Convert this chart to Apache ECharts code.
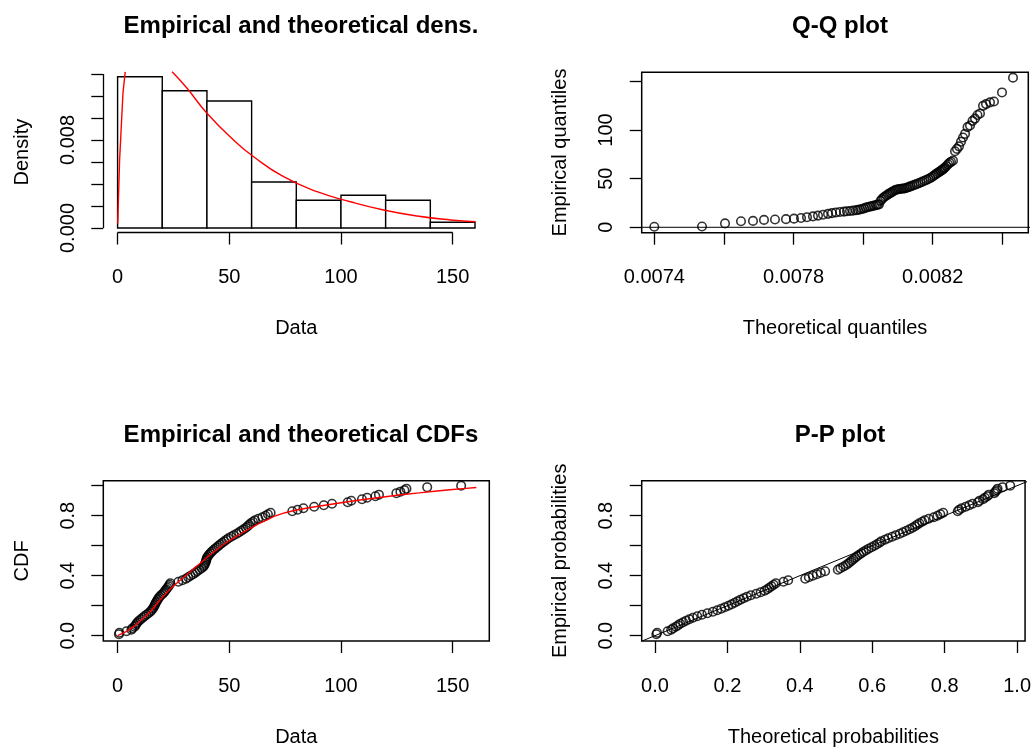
<!DOCTYPE html>
<html><head><meta charset="utf-8">
<script src="https://cdn.jsdelivr.net/npm/echarts@6/dist/echarts.min.js"></script>
<style>html,body{margin:0;padding:0;background:#fff}#c{width:1034px;height:755px}</style>
</head><body><div id="c"></div>
<script>
// ---- data ----
const sortedData = [0.6,0.8,4.0,6.2,6.6,7.6,8.0,8.4,8.9,9.6,
  10.4,11.2,12.0,12.9,13.8,14.6,15.2,15.7,16.1,16.5,
  16.8,17.1,17.5,17.9,18.3,18.8,19.4,20.2,20.8,21.3,
  21.8,22.3,22.8,23.2,23.6,27.2,29.0,30.6,31.6,32.7,
  33.8,34.8,35.6,36.6,37.6,38.4,38.8,39.1,39.4,39.6,
  39.8,39.95,40.4,40.9,41.5,42.1,42.8,43.6,44.4,45.2,
  46.0,46.9,47.8,48.7,49.6,50.8,52.0,53.3,54.4,55.4,
  56.4,57.4,58.2,58.9,59.6,60.6,61.5,63.0,64.8,66.2,
  67.3,68.5,78.2,80.6,83.2,88.0,92.3,96.0,103.0,104.6,
  109.4,111.7,115.4,117.0,124.8,126.6,128.4,129.3,138.6,153.8];
const theoQuantiles = [0.0074000,0.0075371,0.0076032,0.0076491,0.0076836,0.0077152,0.0077468,0.0077784,0.0078014,0.0078216,
  0.0078388,0.0078560,0.0078704,0.0078848,0.0078991,0.0079106,0.0079221,0.0079336,0.0079451,0.0079537,
  0.0079624,0.0079710,0.0079796,0.0079853,0.0079911,0.0079968,0.0080026,0.0080083,0.0080141,0.0080198,
  0.0080256,0.0080313,0.0080371,0.0080414,0.0080457,0.0080500,0.0080543,0.0080586,0.0080629,0.0080672,
  0.0080716,0.0080759,0.0080802,0.0080845,0.0080888,0.0080931,0.0080974,0.0081017,0.0081060,0.0081103,
  0.0081147,0.0081190,0.0081233,0.0081276,0.0081319,0.0081362,0.0081420,0.0081477,0.0081534,0.0081592,
  0.0081649,0.0081707,0.0081764,0.0081822,0.0081879,0.0081937,0.0081994,0.0082037,0.0082080,0.0082124,
  0.0082167,0.0082210,0.0082239,0.0082267,0.0082296,0.0082325,0.0082353,0.0082397,0.0082440,0.0082483,
  0.0082526,0.0082583,0.0082641,0.0082698,0.0082756,0.0082813,0.0082871,0.0082928,0.0083000,0.0083072,
  0.0083144,0.0083216,0.0083287,0.0083359,0.0083445,0.0083532,0.0083647,0.0083761,0.0083991,0.0084307];
const theoProbs = [0.004,0.006,0.035,0.045,0.050,0.058,0.064,0.070,0.078,0.086,
  0.095,0.105,0.117,0.130,0.145,0.160,0.172,0.183,0.193,0.203,
  0.212,0.220,0.228,0.236,0.245,0.254,0.265,0.280,0.292,0.303,
  0.310,0.316,0.322,0.328,0.334,0.355,0.368,0.415,0.425,0.436,
  0.447,0.458,0.470,0.505,0.512,0.520,0.527,0.533,0.538,0.543,
  0.548,0.553,0.558,0.564,0.570,0.576,0.583,0.590,0.598,0.606,
  0.613,0.620,0.625,0.635,0.644,0.655,0.665,0.676,0.685,0.694,
  0.703,0.711,0.718,0.724,0.730,0.738,0.745,0.756,0.770,0.780,
  0.788,0.796,0.836,0.840,0.847,0.858,0.868,0.877,0.892,0.896,
  0.906,0.911,0.918,0.922,0.937,0.940,0.944,0.946,0.960,0.981];
const histBreaks = [0,20,40,60,80,100,120,140,160];
const histDensity = [0.01375,0.01248,0.01155,0.00418,0.00252,0.00297,0.00252,0.00052];
const densRise = [[0.05,0.0004],[0.9,0.0062],[1.5,0.0086],[2.4,0.01225],[3.4,0.0142]];
const densFall = [[24.4,0.0142],[31.1,0.0127],[40,0.01043],[51.9,0.008],[60.9,0.00648],[74.3,0.00466],
  [89.3,0.0033],[104.2,0.00239],[119.1,0.00164],[134.1,0.00109],[149,0.00073],[160.2,0.00057]];
const cdfCurve = [[0,0],[3.6,0.025],[7.2,0.06],[11,0.11],[14.6,0.16],[18.5,0.23],[22.1,0.29],[26,0.345],
  [29.6,0.39],[33.5,0.44],[37,0.483],[41,0.535],[44.5,0.575],[48,0.615],[51.9,0.65],[55.5,0.683],
  [59.4,0.716],[63,0.745],[66.9,0.772],[70,0.795],[75,0.82],[80,0.838],[87,0.856],[95,0.875],
  [103,0.893],[111,0.91],[119,0.925],[127,0.94],[135,0.952],[143,0.965],[150,0.975],[156,0.982],[160.6,0.988]];
const qqRefLine = [0.0073, 0.0085];
const ppRefLine = [-0.05, 1.05];
// tick / label values
const dataTicks = [0,50,100,150];
const densTicks = [0,0.002,0.004,0.006,0.008,0.010,0.012,0.014];
const densLabels = [0,0.008];
const qqXTicks = [0.0074,0.0076,0.0078,0.0080,0.0082,0.0084];
const qqXLabels = [0.0074,0.0078,0.0082];
const qqYTicks = [0,50,100,150];
const qqYLabels = [0,50,100];
const probTicks = [0,0.2,0.4,0.6,0.8,1.0];
const probYLabels = [0,0.4,0.8];

// ---- chart ----
const FONT = "'Liberation Sans', Arial, sans-serif";
const n = sortedData.length;
const chart = echarts.init(document.getElementById('c'), null, {renderer: 'canvas'});

function axis(grid, min, max, ticks, labels, fmt, isY, name) {
  return {
    type: 'value', gridIndex: grid, min: min, max: max,
    name: name, nameLocation: 'middle', nameGap: isY ? 71 : 86,
    nameTextStyle: {fontSize: 20, color: '#000', fontFamily: FONT},
    axisLine: {show: false, onZero: false},
    splitLine: {show: false},
    axisTick: {show: true, inside: false, length: 12, customValues: ticks,
      lineStyle: {color: '#000', width: 1.3}},
    axisLabel: {show: true, customValues: labels, formatter: fmt, margin: isY ? 25 : 35,
      rotate: isY ? 90 : 0, fontSize: 20, color: '#000', fontFamily: FONT}
  };
}
const f0 = v => String(Math.round(v));
const f1 = v => v.toFixed(1);
const f3 = v => v.toFixed(3);
const f4 = v => v.toFixed(4);

const grids = [
  {left: 103.3, top: 71.7, width: 386, height: 160.8, show: false},
  {left: 641.7, top: 72.3, width: 386.6, height: 160.4, show: true, borderColor: '#000', borderWidth: 1.5},
  {left: 103.3, top: 480.7, width: 386, height: 160.3, show: true, borderColor: '#000', borderWidth: 1.5},
  {left: 641.7, top: 480.7, width: 385.6, height: 160.3, show: true, borderColor: '#000', borderWidth: 1.5}
];
const histYMin = -0.00041;
const histXMin = -6.4;
const pointStyle = {color: 'rgba(0,0,0,0)', borderColor: '#000', borderWidth: 1.6};

const option = {
  animation: false,
  backgroundColor: '#fff',
  title: [
    {text: 'Empirical and theoretical dens.', left: 296, top: 9, textAlign: 'center'},
    {text: 'Q-Q plot', left: 835, top: 9, textAlign: 'center'},
    {text: 'Empirical and theoretical CDFs', left: 296, top: 418, textAlign: 'center'},
    {text: 'P-P plot', left: 835, top: 418, textAlign: 'center'}
  ].map(t => Object.assign(t, {textStyle: {fontSize: 24, fontWeight: 'bold', color: '#000', fontFamily: FONT}})),
  grid: grids,
  xAxis: [
    axis(0, histXMin, 166.4, dataTicks, dataTicks, f0, false, 'Data'),
    axis(1, 0.0073638, 0.0084747, qqXTicks, qqXLabels, f4, false, 'Theoretical quantiles'),
    axis(2, -6.4, 166.4, dataTicks, dataTicks, f0, false, 'Data'),
    axis(3, -0.0365, 1.022, probTicks, probTicks, f1, false, 'Theoretical probabilities')
  ],
  yAxis: [
    axis(0, histYMin, 0.01421, densTicks, densLabels, f3, true, 'Density'),
    axis(1, -5.55, 159.3, qqYTicks, qqYLabels, f0, true, 'Empirical quantiles'),
    axis(2, -0.0353, 1.0333, probTicks, probYLabels, f1, true, 'CDF'),
    axis(3, -0.0353, 1.0333, probTicks, probYLabels, f1, true, 'Empirical probabilities')
  ],
  series: [
    {
      type: 'custom', xAxisIndex: 0, yAxisIndex: 0,
      data: histDensity.map((d, i) => [histBreaks[i], histBreaks[i + 1], d]),
      renderItem: function (params, api) {
        const p0 = api.coord([api.value(0), 0]);
        const p1 = api.coord([api.value(1), api.value(2)]);
        return {type: 'rect', shape: {x: p0[0], y: p1[1], width: p1[0] - p0[0], height: p0[1] - p1[1]},
          style: {fill: '#fff', stroke: '#000', lineWidth: 1.4}};
      },
      markLine: {
        silent: true, symbol: ['none', 'none'], label: {show: false},
        lineStyle: {color: '#000', width: 1.3, type: 'solid'},
        data: [
          [{coord: [dataTicks[0], histYMin]}, {coord: [dataTicks[dataTicks.length - 1], histYMin]}],
          [{coord: [histXMin, densTicks[0]]}, {coord: [histXMin, densTicks[densTicks.length - 1]]}]
        ]
      }
    },
    {type: 'line', xAxisIndex: 0, yAxisIndex: 0, data: densRise, symbol: 'none', clip: true,
      lineStyle: {color: '#ff0000', width: 1.4}},
    {type: 'line', xAxisIndex: 0, yAxisIndex: 0, data: densFall, symbol: 'none', smooth: true, clip: true,
      lineStyle: {color: '#ff0000', width: 1.4}},
    {type: 'scatter', xAxisIndex: 1, yAxisIndex: 1, symbol: 'circle', symbolSize: 8.5,
      data: theoQuantiles.map((q, i) => [q, sortedData[i]]), itemStyle: pointStyle},
    {type: 'line', xAxisIndex: 1, yAxisIndex: 1, symbol: 'none', clip: true,
      data: qqRefLine.map(v => [v, v]), lineStyle: {color: '#000', width: 1}},
    {type: 'scatter', xAxisIndex: 2, yAxisIndex: 2, symbol: 'circle', symbolSize: 8.5,
      data: sortedData.map((d, i) => [d, (i + 1) / n]), itemStyle: pointStyle},
    {type: 'line', xAxisIndex: 2, yAxisIndex: 2, symbol: 'none', clip: true, data: cdfCurve,
      lineStyle: {color: '#ff0000', width: 1.4}},
    {type: 'scatter', xAxisIndex: 3, yAxisIndex: 3, symbol: 'circle', symbolSize: 8.5,
      data: theoProbs.map((p, i) => [p, (i + 1) / n]), itemStyle: pointStyle},
    {type: 'line', xAxisIndex: 3, yAxisIndex: 3, symbol: 'none', clip: true,
      data: ppRefLine.map(v => [v, v]), lineStyle: {color: '#000', width: 1}}
  ]
};
chart.setOption(option);
</script>
</body></html>
